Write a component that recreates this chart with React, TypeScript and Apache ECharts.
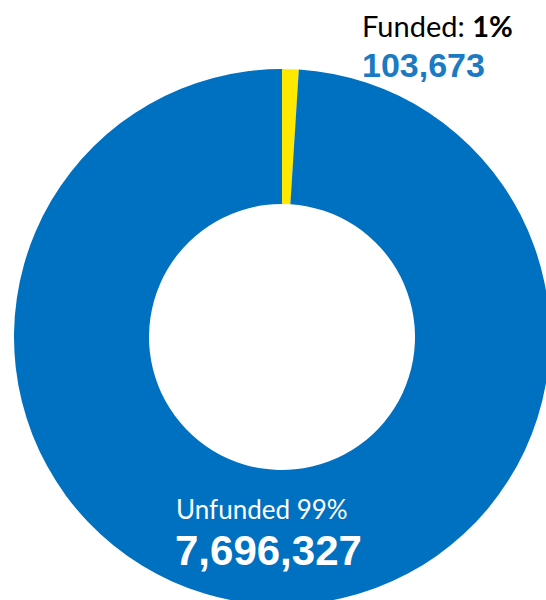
import React, { useEffect, useRef } from "react";
import * as echarts from "echarts";

const categories = ["Funded", "Unfunded"];
const percents = [1, 99];
const counts = ["103,673", "7,696,327"];
const colors = ["#FFE800", "#0070C0"];

export default function App() {
  const ref = useRef<HTMLDivElement>(null);
  useEffect(() => {
    const chart = echarts.init(ref.current!, undefined, { renderer: "svg" });
    chart.setOption({
      animation: false,
      series: [
        {
          type: "pie",
          center: [282, 337],
          radius: [133, 268],
          startAngle: 90,
          clockwise: true,
          label: { show: false },
          labelLine: { show: false },
          silent: true,
          data: categories.map((c, i) => ({
            name: c,
            value: percents[i],
            itemStyle: { color: colors[i] },
          })),
        },
      ],
      graphic: [
        {
          type: "text",
          left: 362,
          top: 11,
          z: 100,
          style: {
            text: `{n|${categories[0]}: }{b|${percents[0]}%}`,
            rich: {
              n: { fontFamily: "Lato", fontSize: 29, fill: "#000" },
              b: { fontFamily: "Lato", fontSize: 29, fontWeight: "bold", fill: "#000" },
            },
          },
        },
        {
          type: "text",
          left: 362,
          top: 48,
          z: 100,
          style: {
            text: counts[0],
            fontFamily: "Liberation Sans",
            fontWeight: "bold",
            fontSize: 34,
            fill: "#1A7AC4",
          },
        },
        {
          type: "text",
          left: 176,
          top: 496,
          z: 100,
          style: {
            text: `${categories[1]} ${percents[1]}%`,
            fontFamily: "Lato",
            fontWeight: "normal",
            fontSize: 26,
            fill: "#fff",
          },
        },
        {
          type: "text",
          left: 175,
          top: 529,
          z: 100,
          style: {
            text: counts[1],
            fontFamily: "Liberation Sans",
            fontWeight: "bold",
            fontSize: 42,
            fill: "#fff",
          },
        },
      ],
    });
    return () => chart.dispose();
  }, []);
  return (
    <div
      ref={ref}
      style={{ position: "fixed", left: 0, top: 0, width: 546, height: 600, background: "#fff" }}
    />
  );
}
